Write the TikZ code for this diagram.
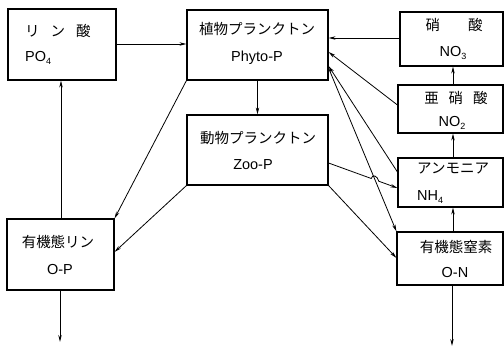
\documentclass[tikz,border=0pt]{standalone}
\usepackage{fontspec}
\setmainfont{Liberation Sans}
\newfontfamily\jpfont{Noto Sans CJK JP}
\usetikzlibrary{arrows.meta,calc,intersections}
\newcommand\mysub[1]{\raisebox{-0.35ex}{\fontsize{9}{9}\selectfont #1}}
\tikzset{
  boxnode/.style={draw, line width=1.1pt, inner sep=0pt, rectangle},
  jp/.style={inner sep=0pt, font=\jpfont\fontsize{14.5}{16}\selectfont},
  lat/.style={inner sep=0pt, font=\fontsize{14.5}{16}\selectfont},
  arr/.style={line width=0.8pt, -{Stealth[length=7pt,width=3.4pt]}},
  plain/.style={line width=0.8pt}
}
\begin{document}
\begin{tikzpicture}[x=1pt,y=-1pt]
\useasboundingbox (0,0) rectangle (504,347);
% boxes
\node[boxnode, minimum width=108pt, minimum height=71pt] (po4) at (62,44.5) {};
\node[boxnode, minimum width=141pt, minimum height=70pt] (phyto) at (257.5,45) {};
\node[boxnode, minimum width=103pt, minimum height=54pt] (no3) at (451.5,39) {};
\node[boxnode, minimum width=105pt, minimum height=48pt] (no2) at (450.5,109) {};
\node[boxnode, minimum width=105pt, minimum height=49pt] (nh4) at (450.5,182.5) {};
\node[boxnode, minimum width=106pt, minimum height=53pt] (on) at (450,258.5) {};
\node[boxnode, minimum width=141pt, minimum height=70pt] (zoo) at (257.5,150) {};
\node[boxnode, minimum width=107pt, minimum height=71pt] (op) at (60.5,254.5) {};
% texts
\node[jp, anchor=west] (tpo4a) at (25,31) {リ\hspace{11pt}ン\hspace{11pt}酸};
\node[lat, anchor=west] (tpo4b) at (25,58) {PO\mysub{4}};
\node[jp] (tphya) at (257,29) {植物プランクトン};
\node[lat] (tphyb) at (257,58) {Phyto-P};
\node[jp] (tno3a) at (454,25) {硝\hspace{28pt}酸};
\node[lat] (tno3b) at (453,53) {NO\mysub{3}};
\node[jp] (tno2a) at (456,98) {亜\hspace{10pt}硝\hspace{10pt}酸};
\node[lat] (tno2b) at (452,123) {NO\mysub{2}};
\node[jp, anchor=west] (tnh4a) at (417,168) {アンモニア};
\node[lat, anchor=west] (tnh4b) at (417,197) {NH\mysub{4}};
\node[jp] (tona) at (456,247) {有機態窒素};
\node[lat] (tonb) at (455,273) {O-N};
\node[jp] (tzooa) at (258,138) {動物プランクトン};
\node[lat] (tzoob) at (253,165) {Zoo-P};
\node[jp] (topa) at (58,242) {有機態リン};
\node[lat] (topb) at (60,270) {O-P};
% free ends
\coordinate (opout) at (60,342);
\coordinate (onout) at (452,346);
% connectors
\draw[arr] (po4.east |- 0,44) -- (phyto.west |- 0,44);
\draw[arr] (61,0 |- op.north) -- (61,0 |- po4.south);
\draw[arr] (phyto.south) -- (zoo.north);
\draw[arr] (no3.west |- 0,38) -- (phyto.east |- 0,38);
\draw[arr] (453,0 |- no2.north) -- (453,0 |- no3.south);
\draw[arr] (453,0 |- nh4.north) -- (453,0 |- no2.south);
\draw[arr] (453,0 |- on.north) -- (453,0 |- nh4.south);
\draw[arr] (452,0 |- on.south) -- (onout);
\draw[arr] (60,0 |- op.south) -- (opout);
\draw[arr] (no2.west |- 0,105) -- (phyto.east |- 0,52);
\draw[arr] (nh4.west |- 0,172) -- (phyto.east |- 0,66);
\draw[arr, name path=pon] (phyto.east |- 0,68) -- (on.north west);
\draw[arr] (zoo.south east) -- (on.west |- 0,258);
\draw[arr] (phyto.south west) -- (op.north east);
\draw[arr] (zoo.south west) -- (op.east |- 0,252);
% zoo -> nh4 with hop
\coordinate (zs) at (zoo.east |- 0,163);
\coordinate (ze) at (nh4.west |- 0,188);
\path[name path=pzn] (zs) -- (ze);
\path[name intersections={of=pon and pzn, by=X}];
\coordinate (h1) at ($(X)!4pt!(zs)$);
\coordinate (h2) at ($(X)!4pt!(ze)$);
\draw[arr] (zs) -- (h1) .. controls ($(h1)+(1,-5)$) and ($(h2)+(-1,-5)$) .. (h2) -- (ze);
\end{tikzpicture}
\end{document}
